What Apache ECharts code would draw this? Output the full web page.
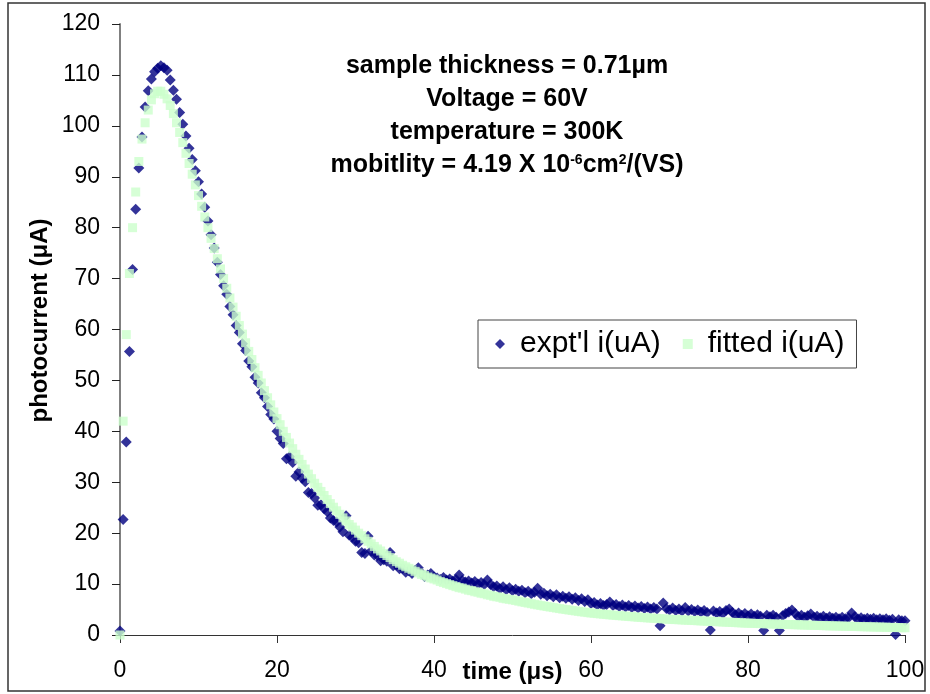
<!DOCTYPE html>
<html>
<head>
<meta charset="utf-8">
<script src="https://cdn.jsdelivr.net/npm/echarts@6/dist/echarts.min.js"></script>
<style>
html,body{margin:0;padding:0;background:#fff;}
#chart{width:930px;height:694px;}
</style>
</head>
<body>
<div id="chart"></div>
<script>
// sample times (µs)
const time_us = [
0,0.4,0.8,1.2,1.6,2,2.4,2.8,3.2,3.6,
4,4.4,4.8,5.2,5.6,6,6.4,6.8,7.2,7.6,
8,8.4,8.8,9.2,9.6,10,10.4,10.8,11.2,11.6,
12,12.4,12.8,13.2,13.6,14,14.4,14.8,15.2,15.6,
16,16.4,16.8,17.2,17.6,18,18.4,18.8,19.2,19.6,
20,20.4,20.8,21.2,21.6,22,22.4,22.8,23.2,23.6,
24,24.4,24.8,25.2,25.6,26,26.4,26.8,27.2,27.6,
28,28.4,28.8,29.2,29.6,30,30.4,30.8,31.2,31.6,
32,32.4,32.8,33.2,33.6,34,34.4,34.8,35.2,35.6,
36,36.4,36.8,37.2,37.6,38,38.4,38.8,39.2,39.6,
40,40.4,40.8,41.2,41.6,42,42.4,42.8,43.2,43.6,
44,44.4,44.8,45.2,45.6,46,46.4,46.8,47.2,47.6,
48,48.4,48.8,49.2,49.6,50,50.4,50.8,51.2,51.6,
52,52.4,52.8,53.2,53.6,54,54.4,54.8,55.2,55.6,
56,56.4,56.8,57.2,57.6,58,58.4,58.8,59.2,59.6,
60,60.4,60.8,61.2,61.6,62,62.4,62.8,63.2,63.6,
64,64.4,64.8,65.2,65.6,66,66.4,66.8,67.2,67.6,
68,68.4,68.8,69.2,69.6,70,70.4,70.8,71.2,71.6,
72,72.4,72.8,73.2,73.6,74,74.4,74.8,75.2,75.6,
76,76.4,76.8,77.2,77.6,78,78.4,78.8,79.2,79.6,
80,80.4,80.8,81.2,81.6,82,82.4,82.8,83.2,83.6,
84,84.4,84.8,85.2,85.6,86,86.4,86.8,87.2,87.6,
88,88.4,88.8,89.2,89.6,90,90.4,90.8,91.2,91.6,
92,92.4,92.8,93.2,93.6,94,94.4,94.8,95.2,95.6,
96,96.4,96.8,97.2,97.6,98,98.4,98.8,99.2,99.6,
100];

// experimental photocurrent (µA)
const expt_uA = [
0.8,22.7,37.9,55.7,71.8,83.6,91.7,97.8,103.7,106.9,
109.2,110.6,111.3,111.8,111.4,110.9,109.0,107.0,105.2,102.6,
100.3,98.0,95.6,93.4,91.2,89.0,86.6,84.0,81.3,78.6,
76.0,73.2,70.8,68.6,66.9,64.5,62.9,60.8,59.4,57.2,
55.9,53.8,52.7,50.6,49.5,47.6,46.6,44.9,43.3,42.4,
40.0,38.6,37.6,34.6,35.0,33.9,31.2,32.0,30.8,30.1,
28.0,27.8,26.9,25.5,25.6,24.8,24.2,23.0,22.5,22.2,
21.2,20.3,23.4,19.6,19.2,18.4,18.1,16.2,16.0,19.4,
16.5,15.7,15.6,14.6,14.8,14.5,16.2,13.6,13.8,13.0,
13.1,12.3,12.6,12.1,12.7,13.2,12.2,11.5,11.8,12.1,
11.4,11.2,10.9,11.3,10.8,11.0,10.6,10.9,11.8,10.7,
10.4,10.6,10.2,10.5,10.0,10.3,9.9,10.8,9.9,9.5,
9.6,9.1,9.5,8.9,9.3,8.7,9.0,8.6,8.8,8.3,
8.6,8.1,8.4,9.2,8.0,8.2,7.7,8.0,7.5,7.9,
7.3,7.6,7.2,7.5,7.0,7.3,6.8,7.1,6.6,6.9,
6.2,6.4,5.9,6.2,5.8,6.0,6.5,5.8,6.0,5.6,
5.9,5.5,5.8,5.4,5.7,5.3,5.6,5.2,5.5,5.1,
5.4,5.1,1.8,6.3,5.2,4.9,5.3,4.8,5.1,4.7,
5.4,4.7,5.0,4.6,4.9,4.5,4.8,4.4,1.0,4.7,
4.3,4.6,4.2,4.8,5.1,4.4,4.0,4.3,3.9,4.2,
3.8,4.1,3.7,4.0,3.7,0.9,3.9,3.6,3.9,3.5,
0.9,3.8,4.2,4.5,4.9,4.2,3.6,3.9,3.5,3.8,
4.1,3.5,3.7,3.4,3.7,3.3,3.6,3.3,3.5,3.2,
3.5,3.2,3.4,4.3,3.6,3.2,3.4,3.1,3.3,3.1,
3.3,3.0,3.2,3.0,3.2,2.9,3.1,0.1,3.0,2.8,
2.8];

// fitted photocurrent (µA)
const fitted_uA = [
0,42,59,71,80,87,93,97.4,100.6,103.1,
105.1,106.3,106.8,106.8,106.2,105.3,104.0,102.4,100.6,98.7,
96.7,94.6,92.6,90.5,88.4,86.3,84.2,82.1,80.0,77.9,
75.9,73.9,71.9,70.0,68.1,66.2,64.4,62.6,60.8,59.1,
57.4,55.7,54.1,52.5,51.0,49.5,48.0,46.6,45.2,43.8,
42.5,41.3,40.0,38.8,37.7,36.6,35.5,34.5,33.5,32.6,
31.6,30.7,29.8,29.0,28.2,27.4,26.6,25.8,25.1,24.4,
23.7,23.0,22.4,21.7,21.2,20.6,20.0,19.5,18.9,18.4,
17.9,17.4,16.9,16.5,16.0,15.6,15.2,14.8,14.4,14.1,
13.7,13.4,13.1,12.8,12.5,12.2,11.9,11.7,11.4,11.2,
11.0,10.8,10.5,10.3,10.1,9.9,9.7,9.5,9.3,9.2,
9.0,8.8,8.7,8.5,8.4,8.2,8.1,7.9,7.8,7.6,
7.5,7.4,7.2,7.1,7.0,6.9,6.77,6.64,6.51,6.39,
6.27,6.15,6.03,5.92,5.81,5.70,5.59,5.49,5.39,5.29,
5.19,5.09,5.0,4.91,4.82,4.73,4.64,4.56,4.48,4.4,
4.32,4.26,4.2,4.14,4.08,4.02,3.96,3.9,3.85,3.8,
3.75,3.7,3.65,3.6,3.55,3.5,3.45,3.41,3.37,3.33,
3.29,3.25,3.21,3.17,3.13,3.09,3.06,3.03,3.0,2.96,
2.93,2.9,2.87,2.84,2.8,2.77,2.74,2.71,2.68,2.65,
2.62,2.59,2.56,2.53,2.5,2.47,2.44,2.41,2.38,2.35,
2.32,2.3,2.28,2.26,2.24,2.22,2.2,2.18,2.16,2.14,
2.12,2.1,2.08,2.06,2.04,2.02,2.0,1.98,1.96,1.94,
1.92,1.9,1.88,1.86,1.84,1.82,1.8,1.79,1.77,1.76,
1.74,1.72,1.71,1.69,1.68,1.66,1.64,1.63,1.61,1.6,
1.58,1.56,1.55,1.53,1.52,1.5,1.48,1.47,1.45,1.44,
1.42];

const seriesNames = ["expt'l i(uA)", "fitted i(uA)"];
const xTicks = {min: 0, max: 100, interval: 20};
const yTicks = {min: 0, max: 120, interval: 10};

const FONT = "'Liberation Sans', Arial, Helvetica, sans-serif";
const chart = echarts.init(document.getElementById('chart'), null, {renderer: 'canvas'});

const exptData = expt_uA.map((v, i) => [time_us[i], v]);
const fitData = fitted_uA.map((v, i) => [time_us[i], v]);

const supStyle = {fontFamily: FONT, fontWeight: 'bold', fontSize: 14, lineHeight: 14, verticalAlign: 'top', padding: [4, 0, 0, 0], fill: '#000'};
const mainStyle = {fontFamily: FONT, fontWeight: 'bold', fontSize: 25, lineHeight: 33, fill: '#000'};

chart.setOption({
  animation: false,
  backgroundColor: '#ffffff',
  grid: {left: 120, right: 25, top: 24, bottom: 59, containLabel: false, outerBoundsMode: 'none'},
  xAxis: {
    type: 'value', min: xTicks.min, max: xTicks.max, interval: xTicks.interval,
    axisLine: {show: true, onZero: false, lineStyle: {color: '#333', width: 1}},
    axisTick: {show: true, inside: false, length: 8, lineStyle: {color: '#333', width: 1}},
    axisLabel: {fontSize: 23, color: '#000', margin: 24, fontFamily: FONT},
    splitLine: {show: false},
    name: 'time (μs)', nameLocation: 'middle', nameGap: 25, nameMoveOverlap: false,
    nameTextStyle: {fontSize: 24, fontWeight: 'bold', color: '#000', fontFamily: FONT}
  },
  yAxis: {
    type: 'value', min: yTicks.min, max: yTicks.max, interval: yTicks.interval,
    axisLine: {show: true, lineStyle: {color: '#808080', width: 2}},
    axisTick: {show: true, inside: false, length: 8, lineStyle: {color: '#222', width: 1}},
    axisLabel: {fontSize: 23, color: '#000', margin: 20, fontFamily: FONT},
    splitLine: {show: false},
    name: 'photocurrent (μA)', nameLocation: 'middle', nameGap: 68, nameMoveOverlap: false,
    nameTextStyle: {fontSize: 24, fontWeight: 'bold', color: '#000', fontFamily: FONT, padding: [0, 0, 0, 18]}
  },
  legend: {
    left: 478, top: 320, orient: 'horizontal',
    itemWidth: 10, itemHeight: 10, itemGap: 22,
    padding: [9, 12, 9, 17],
    borderColor: '#444', borderWidth: 1, backgroundColor: '#fff',
    textStyle: {fontSize: 30, color: '#000', fontFamily: FONT, padding: [0, 0, 0, 10]},
    data: [{name: seriesNames[0], icon: 'diamond'}, {name: seriesNames[1], icon: 'rect'}]
  },
  graphic: [
    {type: 'rect', silent: true, z: -10,
     shape: {x: 8, y: 3, width: 917, height: 688},
     style: {fill: 'none', stroke: '#333', lineWidth: 1.5}},
    {type: 'text', silent: true, x: 507, y: 50, z: 10,
     style: Object.assign({}, mainStyle, {
       align: 'center', verticalAlign: 'top',
       text: 'sample thickness = 0.71µm\nVoltage = 60V\ntemperature = 300K\nmobitlity = 4.19 X 10{sup|-6}cm{sup|2}/(VS)',
       rich: {sup: supStyle}
     })}
  ],
  series: [
    {type: 'scatter', name: seriesNames[0], symbol: 'diamond', symbolSize: 11, clip: false, z: 2,
     itemStyle: {color: '#000080'}, data: exptData},
    {type: 'scatter', name: seriesNames[1], symbol: 'rect', symbolSize: 9, clip: false, z: 3,
     itemStyle: {color: '#ccffcc'}, data: fitData}
  ]
});
</script>
</body>
</html>
